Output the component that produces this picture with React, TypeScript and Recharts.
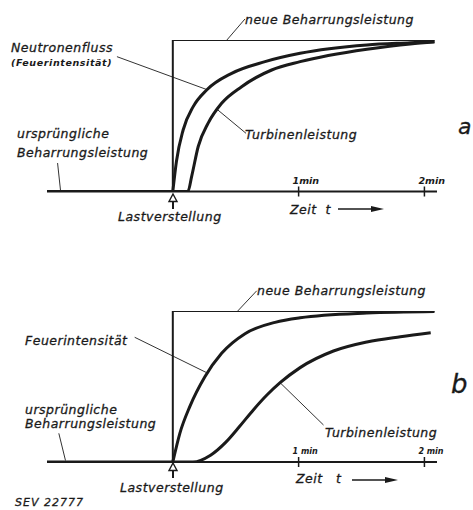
import { LineChart, Line, XAxis, YAxis, ReferenceLine } from 'recharts'

// time in minutes (0 = Lastverstellung), power normalised: 0 = old, 1 = new steady state
const timeTicks = [1, 2]
const tickLabelsA = ['1min', '2min']
const tickLabelsB = ['1 min', '2 min']

const baseline = [
  { t: -1, v: 0 },
  { t: 0, v: 0 },
]
const neueLeistung = [
  { t: 0, v: 0 },
  { t: 0, v: 1 },
  { t: 2.08, v: 1 },
]

// panel a
const neutronenflussA = [
  { t: 0, v: 0 },
  { t: 0.029, v: 0.2 },
  { t: 0.082, v: 0.406 },
  { t: 0.162, v: 0.56 },
  { t: 0.269, v: 0.67 },
  { t: 0.468, v: 0.78 },
  { t: 0.733, v: 0.857 },
  { t: 1.012, v: 0.912 },
  { t: 1.543, v: 0.967 },
  { t: 1.888, v: 0.982 },
  { t: 2.08, v: 0.99 },
]
const turbineA = [
  { t: 0, v: 0 },
  { t: 0.12, v: 0 },
  { t: 0.15, v: 0.1 },
  { t: 0.202, v: 0.297 },
  { t: 0.281, v: 0.451 },
  { t: 0.388, v: 0.582 },
  { t: 0.547, v: 0.692 },
  { t: 0.786, v: 0.802 },
  { t: 1.012, v: 0.857 },
  { t: 1.543, v: 0.939 },
  { t: 1.888, v: 0.974 },
  { t: 2.08, v: 0.986 },
]

// panel b
const feuerB = [
  { t: 0, v: 0 },
  { t: 0.056, v: 0.19 },
  { t: 0.135, v: 0.367 },
  { t: 0.255, v: 0.565 },
  { t: 0.388, v: 0.72 },
  { t: 0.574, v: 0.85 },
  { t: 0.813, v: 0.925 },
  { t: 1.012, v: 0.955 },
  { t: 1.543, v: 0.986 },
  { t: 2.08, v: 0.996 },
]
const turbineB = [
  { t: 0, v: 0 },
  { t: 0.16, v: 0 },
  { t: 0.3, v: 0.045 },
  { t: 0.42, v: 0.13 },
  { t: 0.53, v: 0.235 },
  { t: 0.64, v: 0.345 },
  { t: 0.75, v: 0.445 },
  { t: 0.853, v: 0.525 },
  { t: 1.012, v: 0.625 },
  { t: 1.277, v: 0.735 },
  { t: 1.543, v: 0.795 },
  { t: 1.809, v: 0.83 },
  { t: 2.05, v: 0.856 },
]

// leader lines (data coords)
const leadersA = [
  [{ t: 0.574, v: 1.139 }, { t: 0.43, v: 1.0 }],
  [{ t: -0.444, v: 0.89 }, { t: 0.273, v: 0.672 }],
  [{ t: 0.582, v: 0.384 }, { t: 0.348, v: 0.545 }],
  [{ t: -0.916, v: 0.188 }, { t: -0.892, v: 0.003 }],
]
const leadersB = [
  [{ t: 0.667, v: 1.134 }, { t: 0.516, v: 1.0 }],
  [{ t: -0.303, v: 0.826 }, { t: 0.273, v: 0.59 }],
  [{ t: -0.906, v: 0.19 }, { t: -0.853, v: 0.01 }],
  [{ t: 1.198, v: 0.245 }, { t: 0.853, v: 0.525 }],
]

const INK = '#1a1a1a'
const FONT = '"DejaVu Sans", sans-serif'

function makeTick(labels: string[], size: number) {
  return (props: any) => {
    const { x, y, payload, index } = props
    return (
      <g>
        <line x1={x} x2={x} y1={y - 5} y2={y + 5} stroke={INK} strokeWidth={1.5} />
        <text x={x - 6} y={y - 8} fontFamily={FONT} fontStyle="italic" fontWeight="bold" fontSize={size} fill={INK}>
          {labels[index] ?? payload.value}
        </text>
      </g>
    )
  }
}

function Panel({ height, top, bottom, upper, lower, leaders, labels, tickSize }: any) {
  return (
    <LineChart width={473} height={height} margin={{ top, right: 36, left: 47, bottom }}>
      <XAxis
        type="number"
        dataKey="t"
        domain={[-1, 2.1]}
        ticks={timeTicks}
        allowDataOverflow
        height={30}
        tickSize={0}
        tickMargin={0}
        tickLine={false}
        axisLine={{ stroke: INK, strokeWidth: 1.8 }}
        tick={makeTick(labels, tickSize)}
        interval={0}
      />
      <YAxis type="number" domain={[0, 1]} hide width={0} allowDataOverflow />
      {leaders.map((seg: any, i: number) => (
        <ReferenceLine
          key={i}
          segment={[{ x: seg[0].t, y: seg[0].v }, { x: seg[1].t, y: seg[1].v }]}
          stroke="#333"
          strokeWidth={1}
          ifOverflow="visible"
        />
      ))}
      <Line data={neueLeistung} dataKey="v" type="linear" stroke={INK} strokeWidth={2} dot={false} isAnimationActive={false} />
      <Line data={baseline} dataKey="v" type="linear" stroke={INK} strokeWidth={3} dot={false} isAnimationActive={false} />
      <Line data={upper} dataKey="v" type="monotone" stroke={INK} strokeWidth={3} dot={false} isAnimationActive={false} />
      <Line data={lower} dataKey="v" type="monotone" stroke={INK} strokeWidth={3} dot={false} isAnimationActive={false} />
    </LineChart>
  )
}

const txt = {
  fontFamily: FONT,
  fontStyle: 'italic',
  fontSize: 12.5,
  letterSpacing: 0.5,
  fill: INK,
  stroke: INK,
  strokeWidth: 0.3,
} as const

function Marker({ x, tip }: { x: number; tip: number }) {
  return (
    <g>
      <path d={`M${x} ${tip} L${x + 4} ${tip + 7.5} L${x - 4} ${tip + 7.5} Z`} fill="#fff" stroke={INK} strokeWidth={1.4} />
      <line x1={x} x2={x} y1={tip + 7.5} y2={tip + 15} stroke={INK} strokeWidth={2} />
    </g>
  )
}

function TimeArrow({ x1, x2, y }: { x1: number; x2: number; y: number }) {
  return (
    <g>
      <line x1={x1} x2={x2 - 10} y1={y} y2={y} stroke={INK} strokeWidth={1.5} />
      <path d={`M${x2} ${y} L${x2 - 13} ${y - 3} L${x2 - 13} ${y + 3} Z`} fill={INK} />
    </g>
  )
}

function Overlay() {
  return (
    <svg width={473} height={510} style={{ position: 'absolute', left: 0, top: 0, pointerEvents: 'none' }}>
      {/* panel a */}
      <text x={245} y={24} {...txt}>neue Beharrungsleistung</text>
      <text x={11} y={52} {...txt}>Neutronenfluss</text>
      <text x={11} y={66} {...txt} fontSize={9.5} fontWeight="bold" letterSpacing={0.6} strokeWidth={0}>(Feuerintensität)</text>
      <text x={245} y={139} {...txt}>Turbinenleistung</text>
      <text x={17} y={138} {...txt}>ursprüngliche</text>
      <text x={17} y={157} {...txt}>Beharrungsleistung</text>
      <text x={458} y={134} {...txt} fontSize={22} letterSpacing={0}>a</text>
      <text x={290} y={214} {...txt} xmlSpace="preserve">Zeit  t</text>
      <TimeArrow x1={338} x2={384} y={209} />
      <Marker x={173} tip={194} />
      <text x={118} y={221} {...txt}>Lastverstellung</text>

      {/* panel b */}
      <text x={257} y={295} {...txt}>neue Beharrungsleistung</text>
      <text x={25} y={345} {...txt}>Feuerintensität</text>
      <text x={25} y={414} {...txt}>ursprüngliche</text>
      <text x={25} y={428} {...txt}>Beharrungsleistung</text>
      <text x={325} y={437} {...txt}>Turbinenleistung</text>
      <text x={451} y={393} {...txt} fontSize={26} letterSpacing={0}>b</text>
      <text x={296} y={483} {...txt} xmlSpace="preserve">Zeit   t</text>
      <TimeArrow x1={352} x2={398} y={480} />
      <Marker x={173} tip={463} />
      <text x={120} y={492} {...txt}>Lastverstellung</text>
      <text x={15} y={506} {...txt} fontSize={11} letterSpacing={1}>SEV 22777</text>
    </svg>
  )
}

export default function App() {
  return (
    <div style={{ position: 'absolute', left: 0, top: 0, width: 473, height: 510, background: '#fff', overflow: 'hidden' }}>
      <div style={{ position: 'absolute', left: 0, top: 0 }}>
        <Panel height={260} top={40} bottom={38.5} upper={neutronenflussA} lower={turbineA} leaders={leadersA} labels={tickLabelsA} tickSize={9.5} />
      </div>
      <div style={{ position: 'absolute', left: 0, top: 260 }}>
        <Panel height={250} top={51} bottom={18} upper={feuerB} lower={turbineB} leaders={leadersB} labels={tickLabelsB} tickSize={8} />
      </div>
      <Overlay />
    </div>
  )
}
